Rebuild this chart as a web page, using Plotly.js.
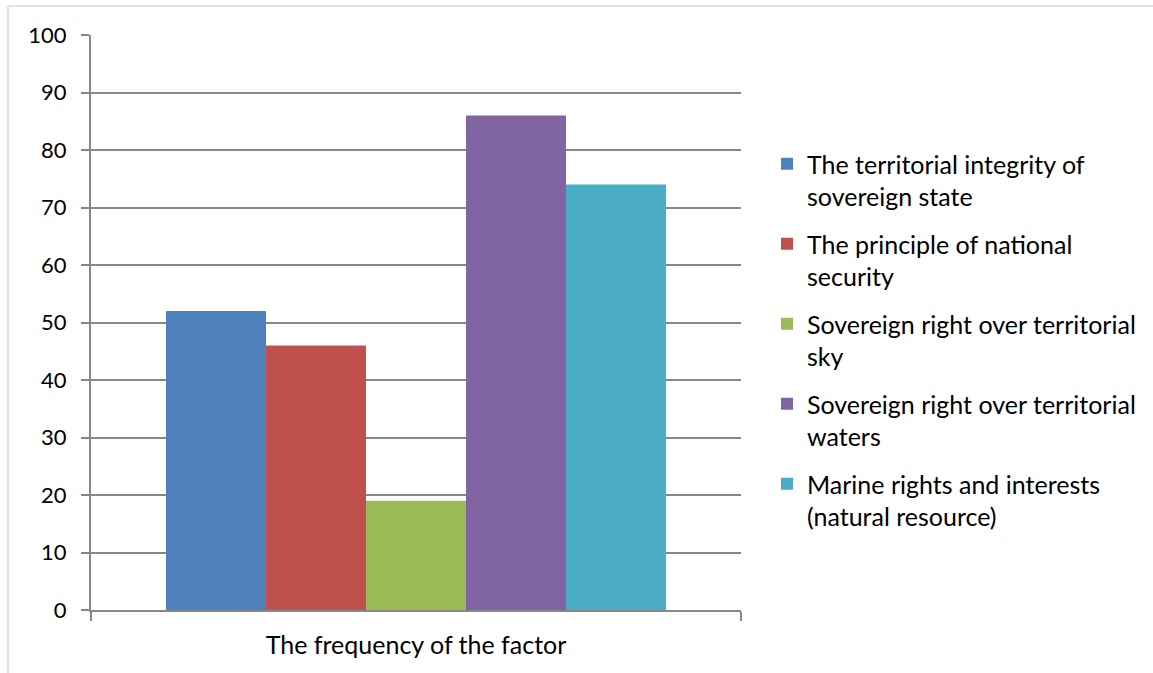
<!DOCTYPE html>
<html>
<head>
<meta charset="utf-8">
<script src="https://cdn.plot.ly/plotly-3.0.1.min.js"></script>
<style>html,body{margin:0;padding:0;background:#fff;}#chart{width:1153px;height:673px;}</style>
</head>
<body>
<div id="chart"></div>
<script>
const categories = ["The frequency of the factor"];
const seriesNames = [
  "The territorial integrity of<br>sovereign state",
  "The principle of national<br>security",
  "Sovereign right over territorial<br>sky",
  "Sovereign right over territorial<br>waters",
  "Marine rights and interests<br>(natural resource)"
];
const seriesValues = [52, 46, 19, 86, 74];
const seriesColors = ["#4F81BD", "#C0504D", "#9BBB59", "#8064A2", "#4BACC6"];
const yTickValues = [0, 10, 20, 30, 40, 50, 60, 70, 80, 90, 100];

const W = 1153, H = 673;
const M = {l: 91, r: W - 741, t: 35, b: H - 610};
const pw = W - M.l - M.r, ph = H - M.t - M.b;
const px = v => (v - M.l) / pw;
const py = v => (H - M.b - v) / ph;

const FONT = "Lato, 'Liberation Sans', Arial, sans-serif";

const traces = seriesNames.map((n, i) => ({
  type: "bar",
  name: n,
  x: categories,
  y: [seriesValues[i]],
  marker: {color: seriesColors[i], line: {width: 0}},
  legendgroup: "g" + i,
  hoverinfo: "y+name"
}));

const layout = {
  width: W, height: H,
  margin: M,
  paper_bgcolor: "#ffffff",
  plot_bgcolor: "#ffffff",
  barmode: "group",
  bargap: 0.2308,
  bargroupgap: 0,
  showlegend: true,
  font: {family: FONT, color: "#000000", size: 22},
  xaxis: {
    type: "category",
    tickson: "boundaries",
    ticks: "outside",
    ticklen: 9,
    tickwidth: 2,
    tickcolor: "#878787",
    showgrid: false,
    showline: true,
    linecolor: "#878787",
    linewidth: 2,
    tickfont: {family: FONT, size: 25, color: "#000"},
    ticklabelstandoff: 12,
    fixedrange: true
  },
  yaxis: {
    range: [0, 100],
    tickvals: yTickValues,
    ticktext: yTickValues.map(String),
    ticks: "outside",
    ticklen: 8,
    tickwidth: 2,
    tickcolor: "#878787",
    showgrid: true,
    gridcolor: "#878787",
    gridwidth: 2,
    showline: true,
    linecolor: "#878787",
    linewidth: 2,
    zeroline: false,
    tickfont: {family: FONT, size: 22, color: "#000"},
    ticklabelstandoff: 10,
    fixedrange: true
  },
  legend: {
    x: px(767), xanchor: "left",
    y: py(141), yanchor: "top",
    font: {family: FONT, size: 25, color: "#000"},
    valign: "top",
    traceorder: "grouped",
    tracegroupgap: 12,
    bgcolor: "rgba(0,0,0,0)",
    borderwidth: 0
  },
  shapes: [
    {type: "line", xref: "paper", yref: "paper", x0: px(8), x1: px(1153), y0: py(6), y1: py(6), line: {color: "#d9d9d9", width: 1.5}},
    {type: "line", xref: "paper", yref: "paper", x0: px(8), x1: px(8), y0: py(6), y1: py(673), line: {color: "#d9d9d9", width: 1.5}}
  ]
};

Plotly.newPlot("chart", traces, layout, {displayModeBar: false, staticPlot: true});
</script>
</body>
</html>
